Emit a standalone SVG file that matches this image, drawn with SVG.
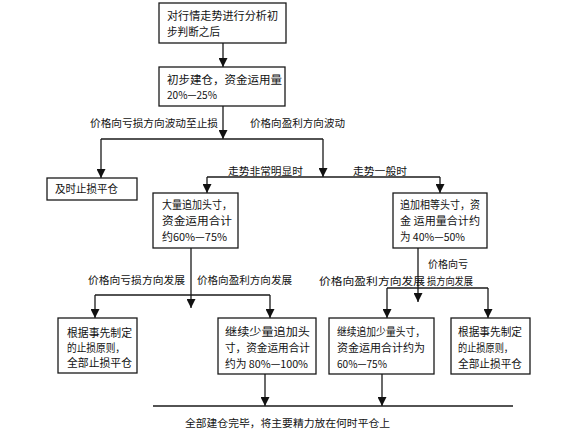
<svg xmlns="http://www.w3.org/2000/svg" width="583" height="429" viewBox="0 0 583 429">
<style>
.box{fill:#fff;stroke:#1a1a1a;stroke-width:1.3}
.t{font-family:"Noto Sans CJK SC","Liberation Sans",sans-serif;font-size:11px;fill:#111}
.l{font-family:"Noto Sans CJK SC","Liberation Sans",sans-serif;font-size:10.5px;fill:#111}
.c{fill:none;stroke:#1a1a1a;stroke-width:1.3}
</style>
<defs>
<marker id="ah" markerUnits="userSpaceOnUse" markerWidth="9" markerHeight="9" refX="9" refY="4.5" orient="auto" viewBox="0 0 9 9">
<path d="M0,0 L9,4.5 L0,9 z" fill="#111"/>
</marker>
</defs>
<rect width="583" height="429" fill="#fff"/>
<g id="connectors">
<path class="c" d="M223,43 V67" marker-end="url(#ah)"/>
<path class="c" d="M223,106 V139" marker-end="url(#ah)"/>
<path class="c" d="M101,139 H323"/>
<path class="c" d="M101,139 V178" marker-end="url(#ah)"/>
<path class="c" d="M323,139 V177" marker-end="url(#ah)"/>
<path class="c" d="M207,177 H440"/>
<path class="c" d="M207,177 V193" marker-end="url(#ah)"/>
<path class="c" d="M440,177 V193" marker-end="url(#ah)"/>
<path class="c" d="M191,248 V308" marker-end="url(#ah)"/>
<path class="c" d="M95,295 H270"/>
<path class="c" d="M95,295 V318" marker-end="url(#ah)"/>
<path class="c" d="M270,295 V318" marker-end="url(#ah)"/>
<path class="c" d="M418,248 V302" marker-end="url(#ah)"/>
<path class="c" d="M387,288 H488"/>
<path class="c" d="M387,288 V318" marker-end="url(#ah)"/>
<path class="c" d="M488,288 V318" marker-end="url(#ah)"/>
<path class="c" d="M265,374 V406" marker-end="url(#ah)"/>
<path class="c" d="M382,374 V406" marker-end="url(#ah)"/>
<path class="c" d="M153,406 H513"/>
<text class="l" x="90" y="127" textLength="128" lengthAdjust="spacingAndGlyphs">价格向亏损方向波动至止损</text>
<text class="l" x="250" y="127" textLength="95" lengthAdjust="spacingAndGlyphs">价格向盈利方向波动</text>
<text class="l" x="228" y="175" textLength="75" lengthAdjust="spacingAndGlyphs">走势非常明显时</text>
<text class="l" x="353" y="175" textLength="54" lengthAdjust="spacingAndGlyphs">走势一般时</text>
<text class="l" x="88" y="284" textLength="97" lengthAdjust="spacingAndGlyphs">价格向亏损方向发展</text>
<text class="l" x="197" y="284" textLength="95" lengthAdjust="spacingAndGlyphs">价格向盈利方向发展</text>
<text class="l" x="428" y="268" textLength="40" lengthAdjust="spacingAndGlyphs">价格向亏</text>
<text class="l" x="427" y="285" textLength="46" lengthAdjust="spacingAndGlyphs">损方向发展</text>
<text class="l" x="319" y="285" textLength="106" lengthAdjust="spacingAndGlyphs">价格向盈利方向发展</text>
<text class="l" x="185" y="427" textLength="205" lengthAdjust="spacingAndGlyphs">全部建仓完毕，将主要精力放在何时平仓上</text>
</g>
<g id="n1">
<rect class="box" x="159" y="3" width="127" height="40"/>
<text class="t" x="167" y="20" textLength="111" lengthAdjust="spacingAndGlyphs">对行情走势进行分析初</text>
<text class="t" x="167" y="36" textLength="53" lengthAdjust="spacingAndGlyphs">步判断之后</text>
</g>
<g id="n2">
<rect class="box" x="159" y="67" width="126" height="39"/>
<text class="t" x="167" y="84" textLength="115" lengthAdjust="spacingAndGlyphs">初步建仓，资金运用量</text>
<text class="t" x="167" y="99" textLength="50" lengthAdjust="spacingAndGlyphs">20%—25%</text>
</g>
<g id="n3">
<rect class="box" x="47" y="178" width="90" height="22"/>
<text class="t" x="55" y="193" textLength="63" lengthAdjust="spacingAndGlyphs">及时止损平仓</text>
</g>
<g id="n4">
<rect class="box" x="153" y="193" width="85" height="55"/>
<text class="t" x="162" y="209" textLength="70" lengthAdjust="spacingAndGlyphs">大量追加头寸，</text>
<text class="t" x="162" y="225" textLength="70" lengthAdjust="spacingAndGlyphs">资金运用合计</text>
<text class="t" x="162" y="241" textLength="65" lengthAdjust="spacingAndGlyphs">约60%—75%</text>
</g>
<g id="n5">
<rect class="box" x="393" y="193" width="94" height="55"/>
<text class="t" x="400" y="209" textLength="80" lengthAdjust="spacingAndGlyphs">追加相等头寸，资</text>
<text class="t" x="400" y="225" textLength="80" lengthAdjust="spacingAndGlyphs">金 运用量合计约</text>
<text class="t" x="400" y="241" textLength="65" lengthAdjust="spacingAndGlyphs">为 40%—50%</text>
</g>
<g id="n6">
<rect class="box" x="58" y="318" width="79" height="55"/>
<text class="t" x="67" y="337" textLength="65" lengthAdjust="spacingAndGlyphs">根据事先制定</text>
<text class="t" x="67" y="352" textLength="58" lengthAdjust="spacingAndGlyphs">的止损原则，</text>
<text class="t" x="67" y="367" textLength="65" lengthAdjust="spacingAndGlyphs">全部止损平仓</text>
</g>
<g id="n7">
<rect class="box" x="218" y="318" width="98" height="56"/>
<text class="t" x="225" y="336" textLength="85" lengthAdjust="spacingAndGlyphs">继续少量追加头</text>
<text class="t" x="225" y="352" textLength="85" lengthAdjust="spacingAndGlyphs">寸，资金运用合计</text>
<text class="t" x="225" y="368" textLength="83" lengthAdjust="spacingAndGlyphs">约为 80%—100%</text>
</g>
<g id="n8">
<rect class="box" x="329" y="318" width="105" height="56"/>
<text class="t" x="337" y="336" textLength="88" lengthAdjust="spacingAndGlyphs">继续追加少量头寸，</text>
<text class="t" x="337" y="352" textLength="88" lengthAdjust="spacingAndGlyphs">资金运用合计约为</text>
<text class="t" x="337" y="368" textLength="50" lengthAdjust="spacingAndGlyphs">60%—75%</text>
</g>
<g id="n9">
<rect class="box" x="451" y="318" width="79" height="56"/>
<text class="t" x="458" y="336" textLength="64" lengthAdjust="spacingAndGlyphs">根据事先制定</text>
<text class="t" x="458" y="352" textLength="55" lengthAdjust="spacingAndGlyphs">的止损原则，</text>
<text class="t" x="458" y="368" textLength="64" lengthAdjust="spacingAndGlyphs">全部止损平仓</text>
</g>
</svg>
